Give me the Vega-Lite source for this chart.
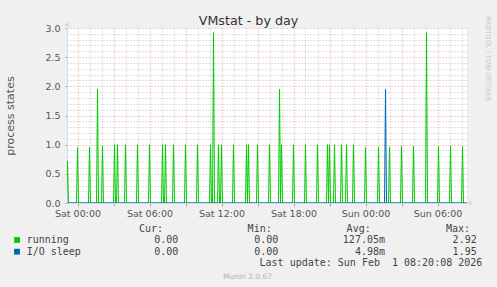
{
  "$schema": "https://vega.github.io/schema/vega-lite/v6.json",
  "width": 400,
  "height": 175,
  "autosize": {"type": "none"},
  "padding": {"left": 67, "top": 28, "right": 30, "bottom": 84},
  "background": "#f0f0f0",
  "config": {
    "view": {"stroke": null, "fill": "#ffffff"},
    "font": "DejaVu Sans",
    "axis": {
      "labelOverlap": false,
      "labelFlush": false,
      "labelBound": false,
      "gridDash": [1, 2],
      "gridWidth": 1,
      "gridOpacity": 1,
      "domainColor": "#cfd6f8",
      "labelFontSize": 9.5,
      "labelColor": "#555555"
    }
  },
  "title": {
    "text": "VMstat - by day",
    "fontSize": 12.7,
    "fontWeight": "normal",
    "color": "#333333",
    "anchor": "middle",
    "frame": "group",
    "dx": -18.5,
    "dy": 6,
    "offset": -6
  },
  "datasets": {
    "series": [
      {"series": "running", "t": "2026-01-30T23:05", "v": 0},
      {"series": "running", "t": "2026-01-30T23:10", "v": 0.72},
      {"series": "running", "t": "2026-01-30T23:15", "v": 0},
      {"series": "running", "t": "2026-01-30T23:55", "v": 0},
      {"series": "running", "t": "2026-01-31T00:00", "v": 0.95},
      {"series": "running", "t": "2026-01-31T00:05", "v": 0},
      {"series": "running", "t": "2026-01-31T00:55", "v": 0},
      {"series": "running", "t": "2026-01-31T01:00", "v": 0.96},
      {"series": "running", "t": "2026-01-31T01:05", "v": 0},
      {"series": "running", "t": "2026-01-31T01:35", "v": 0},
      {"series": "running", "t": "2026-01-31T01:40", "v": 1.95},
      {"series": "running", "t": "2026-01-31T01:45", "v": 0},
      {"series": "running", "t": "2026-01-31T02:00", "v": 0},
      {"series": "running", "t": "2026-01-31T02:05", "v": 0.98},
      {"series": "running", "t": "2026-01-31T02:10", "v": 0},
      {"series": "running", "t": "2026-01-31T03:00", "v": 0},
      {"series": "running", "t": "2026-01-31T03:05", "v": 1.0},
      {"series": "running", "t": "2026-01-31T03:10", "v": 0},
      {"series": "running", "t": "2026-01-31T03:15", "v": 0},
      {"series": "running", "t": "2026-01-31T03:20", "v": 1.0},
      {"series": "running", "t": "2026-01-31T03:25", "v": 0},
      {"series": "running", "t": "2026-01-31T03:55", "v": 0},
      {"series": "running", "t": "2026-01-31T04:00", "v": 1.0},
      {"series": "running", "t": "2026-01-31T04:05", "v": 0},
      {"series": "running", "t": "2026-01-31T04:55", "v": 0},
      {"series": "running", "t": "2026-01-31T05:00", "v": 1.0},
      {"series": "running", "t": "2026-01-31T05:05", "v": 0},
      {"series": "running", "t": "2026-01-31T05:55", "v": 0},
      {"series": "running", "t": "2026-01-31T06:00", "v": 1.0},
      {"series": "running", "t": "2026-01-31T06:05", "v": 0},
      {"series": "running", "t": "2026-01-31T07:00", "v": 0},
      {"series": "running", "t": "2026-01-31T07:05", "v": 1.0},
      {"series": "running", "t": "2026-01-31T07:10", "v": 0},
      {"series": "running", "t": "2026-01-31T07:15", "v": 0},
      {"series": "running", "t": "2026-01-31T07:20", "v": 1.0},
      {"series": "running", "t": "2026-01-31T07:25", "v": 0},
      {"series": "running", "t": "2026-01-31T07:55", "v": 0},
      {"series": "running", "t": "2026-01-31T08:00", "v": 1.0},
      {"series": "running", "t": "2026-01-31T08:05", "v": 0},
      {"series": "running", "t": "2026-01-31T08:55", "v": 0},
      {"series": "running", "t": "2026-01-31T09:00", "v": 1.0},
      {"series": "running", "t": "2026-01-31T09:05", "v": 0},
      {"series": "running", "t": "2026-01-31T09:55", "v": 0},
      {"series": "running", "t": "2026-01-31T10:00", "v": 1.0},
      {"series": "running", "t": "2026-01-31T10:05", "v": 0},
      {"series": "running", "t": "2026-01-31T11:00", "v": 0},
      {"series": "running", "t": "2026-01-31T11:05", "v": 1.0},
      {"series": "running", "t": "2026-01-31T11:10", "v": 0},
      {"series": "running", "t": "2026-01-31T11:15", "v": 0},
      {"series": "running", "t": "2026-01-31T11:20", "v": 2.92},
      {"series": "running", "t": "2026-01-31T11:25", "v": 0},
      {"series": "running", "t": "2026-01-31T11:40", "v": 0},
      {"series": "running", "t": "2026-01-31T11:45", "v": 1.0},
      {"series": "running", "t": "2026-01-31T11:50", "v": 0},
      {"series": "running", "t": "2026-01-31T11:55", "v": 0},
      {"series": "running", "t": "2026-01-31T12:00", "v": 1.0},
      {"series": "running", "t": "2026-01-31T12:05", "v": 0},
      {"series": "running", "t": "2026-01-31T12:55", "v": 0},
      {"series": "running", "t": "2026-01-31T13:00", "v": 1.0},
      {"series": "running", "t": "2026-01-31T13:05", "v": 0},
      {"series": "running", "t": "2026-01-31T14:00", "v": 0},
      {"series": "running", "t": "2026-01-31T14:05", "v": 1.0},
      {"series": "running", "t": "2026-01-31T14:10", "v": 0},
      {"series": "running", "t": "2026-01-31T14:15", "v": 1.0},
      {"series": "running", "t": "2026-01-31T14:20", "v": 0},
      {"series": "running", "t": "2026-01-31T14:55", "v": 0},
      {"series": "running", "t": "2026-01-31T15:00", "v": 1.0},
      {"series": "running", "t": "2026-01-31T15:05", "v": 0},
      {"series": "running", "t": "2026-01-31T15:55", "v": 0},
      {"series": "running", "t": "2026-01-31T16:00", "v": 1.0},
      {"series": "running", "t": "2026-01-31T16:05", "v": 0},
      {"series": "running", "t": "2026-01-31T16:45", "v": 0},
      {"series": "running", "t": "2026-01-31T16:50", "v": 1.95},
      {"series": "running", "t": "2026-01-31T16:55", "v": 0},
      {"series": "running", "t": "2026-01-31T17:00", "v": 1.0},
      {"series": "running", "t": "2026-01-31T17:05", "v": 0},
      {"series": "running", "t": "2026-01-31T17:55", "v": 0},
      {"series": "running", "t": "2026-01-31T18:00", "v": 1.0},
      {"series": "running", "t": "2026-01-31T18:05", "v": 0},
      {"series": "running", "t": "2026-01-31T18:55", "v": 0},
      {"series": "running", "t": "2026-01-31T19:00", "v": 1.0},
      {"series": "running", "t": "2026-01-31T19:05", "v": 0},
      {"series": "running", "t": "2026-01-31T19:55", "v": 0},
      {"series": "running", "t": "2026-01-31T20:00", "v": 1.0},
      {"series": "running", "t": "2026-01-31T20:05", "v": 0},
      {"series": "running", "t": "2026-01-31T20:45", "v": 0},
      {"series": "running", "t": "2026-01-31T20:50", "v": 1.0},
      {"series": "running", "t": "2026-01-31T20:55", "v": 0},
      {"series": "running", "t": "2026-01-31T21:00", "v": 1.0},
      {"series": "running", "t": "2026-01-31T21:05", "v": 0},
      {"series": "running", "t": "2026-01-31T21:20", "v": 0},
      {"series": "running", "t": "2026-01-31T21:25", "v": 1.0},
      {"series": "running", "t": "2026-01-31T21:30", "v": 0},
      {"series": "running", "t": "2026-01-31T21:55", "v": 0},
      {"series": "running", "t": "2026-01-31T22:00", "v": 1.0},
      {"series": "running", "t": "2026-01-31T22:05", "v": 0},
      {"series": "running", "t": "2026-01-31T22:20", "v": 0},
      {"series": "running", "t": "2026-01-31T22:25", "v": 1.0},
      {"series": "running", "t": "2026-01-31T22:30", "v": 0},
      {"series": "running", "t": "2026-01-31T22:55", "v": 0},
      {"series": "running", "t": "2026-01-31T23:00", "v": 1.0},
      {"series": "running", "t": "2026-01-31T23:05", "v": 0},
      {"series": "running", "t": "2026-01-31T23:55", "v": 0},
      {"series": "running", "t": "2026-02-01T00:00", "v": 0.95},
      {"series": "running", "t": "2026-02-01T00:05", "v": 0},
      {"series": "running", "t": "2026-02-01T01:00", "v": 0},
      {"series": "running", "t": "2026-02-01T01:05", "v": 0.96},
      {"series": "running", "t": "2026-02-01T01:10", "v": 0},
      {"series": "running", "t": "2026-02-01T01:55", "v": 0},
      {"series": "running", "t": "2026-02-01T02:00", "v": 0.96},
      {"series": "running", "t": "2026-02-01T02:05", "v": 0},
      {"series": "running", "t": "2026-02-01T02:55", "v": 0},
      {"series": "running", "t": "2026-02-01T03:00", "v": 0.97},
      {"series": "running", "t": "2026-02-01T03:05", "v": 0},
      {"series": "running", "t": "2026-02-01T03:55", "v": 0},
      {"series": "running", "t": "2026-02-01T04:00", "v": 0.97},
      {"series": "running", "t": "2026-02-01T04:05", "v": 0},
      {"series": "running", "t": "2026-02-01T05:00", "v": 0},
      {"series": "running", "t": "2026-02-01T05:05", "v": 2.92},
      {"series": "running", "t": "2026-02-01T05:10", "v": 0},
      {"series": "running", "t": "2026-02-01T06:00", "v": 0},
      {"series": "running", "t": "2026-02-01T06:05", "v": 0.97},
      {"series": "running", "t": "2026-02-01T06:10", "v": 0},
      {"series": "running", "t": "2026-02-01T07:00", "v": 0},
      {"series": "running", "t": "2026-02-01T07:05", "v": 0.98},
      {"series": "running", "t": "2026-02-01T07:10", "v": 0},
      {"series": "running", "t": "2026-02-01T08:00", "v": 0},
      {"series": "running", "t": "2026-02-01T08:05", "v": 0.97},
      {"series": "running", "t": "2026-02-01T08:10", "v": 0},
      {"series": "running", "t": "2026-02-01T08:30", "v": 0},
      {"series": "I/O sleep", "t": "2026-01-30T23:05", "v": 0},
      {"series": "I/O sleep", "t": "2026-02-01T01:35", "v": 0},
      {"series": "I/O sleep", "t": "2026-02-01T01:40", "v": 1.95},
      {"series": "I/O sleep", "t": "2026-02-01T01:45", "v": 0},
      {"series": "I/O sleep", "t": "2026-02-01T08:30", "v": 0}
    ]
  },
  "layer": [
    {
      "data": {"name": "series"},
      "mark": {"type": "line", "strokeWidth": 1, "clip": true},
      "encoding": {
        "x": {
          "field": "t",
          "type": "temporal",
          "scale": {
            "domain": [
              {"year": 2026, "month": 1, "date": 30, "hours": 23, "minutes": 7, "seconds": 30},
              {"year": 2026, "month": 2, "date": 1, "hours": 8, "minutes": 27, "seconds": 30}
            ]
          },
          "axis": {
            "title": null,
            "tickCount": 34,
            "labelExpr": "hours(datum.value) % 6 === 0 ? timeFormat(datum.value, '%a %H:%M') : ''",
            "labelOverlap": false,
            "labelPadding": 2,
            "grid": true,
            "gridColor": {"condition": {"test": "hours(datum.value) % 3 === 0", "value": "#eaa0a0"}, "value": "#c4c4c4"},
            "tickColor": {"condition": {"test": "hours(datum.value) % 3 === 0", "value": "#e88888"}, "value": "transparent"},
            "tickSize": 3
          }
        },
        "y": {
          "field": "v",
          "type": "quantitative",
          "scale": {"domain": [0, 3], "nice": false, "zero": true},
          "axis": {
            "values": [0, 0.1, 0.2, 0.3, 0.4, 0.5, 0.6, 0.7, 0.8, 0.9, 1.0, 1.1, 1.2, 1.3, 1.4, 1.5, 1.6, 1.7, 1.8, 1.9, 2.0, 2.1, 2.2, 2.3, 2.4, 2.5, 2.6, 2.7, 2.8, 2.9, 3.0],
            "labelExpr": "round(datum.value * 10) % 5 === 0 ? format(datum.value, '.1f') : ''",
            "labelOverlap": false,
            "labelPadding": 5,
            "grid": true,
            "gridColor": {"condition": {"test": "round(datum.value * 10) % 5 === 0", "value": "#eaa0a0"}, "value": "#c4c4c4"},
            "tickColor": {"condition": {"test": "round(datum.value * 10) % 5 === 0", "value": "#e88888"}, "value": "transparent"},
            "tickSize": 2,
            "title": "process states",
            "titleFontSize": 11,
            "titleFontWeight": "normal",
            "titleColor": "#555555",
            "titlePadding": 29
          }
        },
        "color": {"field": "series", "type": "nominal", "scale": {"domain": ["running", "I/O sleep"], "range": ["#00cc00", "#0066b3"]}, "legend": null}
      }
    },
    {
      "layer": [
        {
          "data": {"values": [
            {"row": 0, "col": 0, "text": "Cur:"},
            {"row": 0, "col": 1, "text": "Min:"},
            {"row": 0, "col": 2, "text": "Avg:"},
            {"row": 0, "col": 3, "text": "Max:"}
          ]},
          "mark": {"type": "text", "align": "right", "baseline": "middle", "font": "DejaVu Sans Mono", "fontSize": 10, "color": "#444444"},
          "encoding": {
            "x": {"field": "col", "type": "quantitative", "scale": {"domain": [0, 1, 2, 3], "range": [96, 204.7, 303.7, 403], "zero": false, "nice": false}, "axis": null},
            "y": {"field": "row", "type": "quantitative", "scale": {"domain": [0, 1, 2, 3, 4], "range": [200.5, 212, 223.7, 235.3, 248.7], "zero": false, "nice": false}, "axis": null},
            "text": {"field": "text"}
          }
        },
        {
          "data": {"values": [
            {"row": 1, "col": 0, "text": "0.00"},
            {"row": 1, "col": 1, "text": "0.00"},
            {"row": 1, "col": 2, "text": "127.05m"},
            {"row": 1, "col": 3, "text": "2.92"},
            {"row": 2, "col": 0, "text": "0.00"},
            {"row": 2, "col": 1, "text": "0.00"},
            {"row": 2, "col": 2, "text": "4.98m"},
            {"row": 2, "col": 3, "text": "1.95"}
          ]},
          "mark": {"type": "text", "align": "right", "baseline": "middle", "font": "DejaVu Sans Mono", "fontSize": 10, "color": "#444444"},
          "encoding": {
            "x": {"field": "col", "type": "quantitative", "scale": {"domain": [0, 1, 2, 3], "range": [111.3, 211.3, 318, 409.7], "zero": false, "nice": false}, "axis": null},
            "y": {"field": "row", "type": "quantitative", "axis": null},
            "text": {"field": "text"}
          }
        },
        {
          "data": {"values": [
            {"row": 1, "text": "running"},
            {"row": 2, "text": "I/O sleep"}
          ]},
          "mark": {"type": "text", "align": "left", "baseline": "middle", "font": "DejaVu Sans Mono", "fontSize": 10, "color": "#444444"},
          "encoding": {
            "x": {"datum": 0, "type": "quantitative", "scale": {"domain": [0, 1], "range": [-40.3, 0]}, "axis": null},
            "y": {"field": "row", "type": "quantitative", "axis": null},
            "text": {"field": "text"}
          }
        },
        {
          "data": {"values": [
            {"row": 1, "series": "running"},
            {"row": 2, "series": "I/O sleep"}
          ]},
          "mark": {"type": "square", "size": 34, "opacity": 1},
          "encoding": {
            "x": {"datum": 0, "type": "quantitative", "scale": {"domain": [0, 1], "range": [-50, 0]}, "axis": null},
            "y": {"field": "row", "type": "quantitative", "axis": null},
            "color": {"field": "series", "type": "nominal", "legend": null}
          }
        },
        {
          "data": {"values": [
            {"row": 3, "text": "Last update: Sun Feb \u00a01 08:20:08 2026"}
          ]},
          "mark": {"type": "text", "align": "right", "baseline": "middle", "font": "DejaVu Sans Mono", "fontSize": 10, "color": "#444444"},
          "encoding": {
            "x": {"datum": 0, "type": "quantitative", "scale": {"domain": [0, 1], "range": [415.3, 500]}, "axis": null},
            "y": {"field": "row", "type": "quantitative", "axis": null},
            "text": {"field": "text"}
          }
        },
        {
          "data": {"values": [
            {"row": 4, "text": "Munin 2.0.67"}
          ]},
          "mark": {"type": "text", "align": "center", "baseline": "middle", "font": "DejaVu Sans", "fontSize": 7.5, "color": "#b4b4b4"},
          "encoding": {
            "x": {"datum": 0, "type": "quantitative", "scale": {"domain": [0, 1], "range": [180.5, 300]}, "axis": null},
            "y": {"field": "row", "type": "quantitative", "axis": null},
            "text": {"field": "text"}
          }
        }
      ],
      "resolve": {"scale": {"x": "independent"}}
    },
    {
      "data": {"values": [{"text": "RRDTOOL / TOBI OETIKER"}]},
      "mark": {"type": "text", "align": "center", "baseline": "middle", "angle": 90, "font": "DejaVu Sans", "fontSize": 6.6, "color": "#c4c4c4"},
      "encoding": {
        "x": {"datum": 0, "type": "quantitative", "scale": {"domain": [0, 1], "range": [420.5, 500]}, "axis": null},
        "y": {"datum": 0, "type": "quantitative", "scale": {"domain": [0, 1], "range": [30.5, 100]}, "axis": null},
        "text": {"field": "text"}
      }
    },
    {
      "data": {"values": [{"k": "y-axis arrow"}]},
      "mark": {"type": "point", "shape": "triangle-up", "filled": true, "color": "#cfd6f8", "size": 28, "opacity": 1},
      "encoding": {
        "x": {"datum": 0, "type": "quantitative", "scale": {"domain": [0, 1], "range": [0, 100]}, "axis": null},
        "y": {"datum": 0, "type": "quantitative", "scale": {"domain": [0, 1], "range": [-4, 100]}, "axis": null}
      }
    },
    {
      "data": {"values": [{"k": "x-axis arrow"}]},
      "mark": {"type": "point", "shape": "triangle-right", "filled": true, "color": "#cfd6f8", "size": 28, "opacity": 1},
      "encoding": {
        "x": {"datum": 0, "type": "quantitative", "scale": {"domain": [0, 1], "range": [404, 500]}, "axis": null},
        "y": {"datum": 0, "type": "quantitative", "scale": {"domain": [0, 1], "range": [175, 300]}, "axis": null}
      }
    }
  ],
  "resolve": {"scale": {"x": "independent", "y": "independent"}}
}
